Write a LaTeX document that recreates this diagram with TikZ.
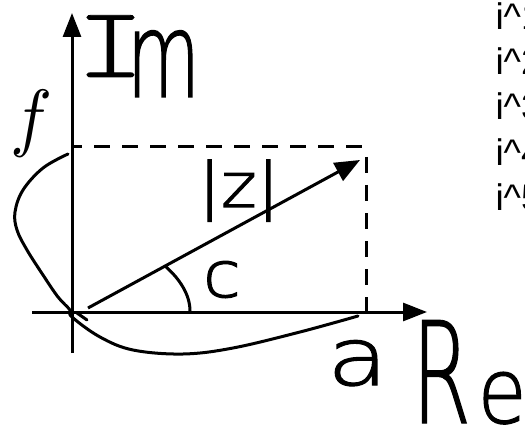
\documentclass[tikz,border=0pt]{standalone}
\usepackage{fontspec}
\usepackage{graphicx}
\setmainfont{Liberation Sans}
\newcommand\hw[4]{{\fontspec{DejaVuSans-ExtraLight.ttf}[FakeStretch=#1,FakeBold=#3]\fontsize{#2pt}{#2pt}\selectfont #4}}
\newcommand\hwmono[4]{{\fontspec{lmmonolt10-regular.otf}[FakeStretch=#1,FakeBold=#3]\fontsize{#2pt}{#2pt}\selectfont #4}}
\usetikzlibrary{arrows.meta}
\begin{document}
\begin{tikzpicture}[x=1pt,y=-1pt,
  stroke/.style={line width=3pt,line cap=round},
  axis/.style={line width=3pt,-{Triangle[length=24pt,width=18pt]}},
  dashline/.style={line width=3pt,dash pattern=on 16pt off 12pt},
  lbl/.style={inner sep=0pt,outer sep=0pt,anchor=base west},
  powtxt/.style={inner sep=0pt,outer sep=0pt,anchor=base west,font=\fontsize{37}{44}\selectfont}]
\clip (0,0) rectangle (525,425);
\fill[white] (0,0) rectangle (525,425);
% axes
\coordinate (ybot) at (72,353);
\coordinate (ytop) at (72,13);
\coordinate (xleft) at (32,312);
\coordinate (xright) at (427,312);
\draw[axis] (ybot) -- (ytop);
\draw[axis] (xleft) -- (xright);
% dashed rectangle
\coordinate (dA) at (72,147);
\coordinate (dB) at (366,147);
\coordinate (dC) at (366,312);
\draw[dashline,dash phase=6pt] (dA) -- (dB);
\draw[dashline,dash phase=18pt] (dB) -- (dC);
% vector
\coordinate (vs) at (88,308);
\coordinate (ve) at (360,160);
\draw[line width=3pt,-{Triangle[length=25pt,width=20pt]}] (vs) -- (ve);
% angle arc
\coordinate (a1) at (165,266);
\coordinate (a2) at (190,311);
\draw[stroke] (a1) .. controls (180,279) and (190,295) .. (a2);
% f curve
\draw[stroke] plot[smooth,tension=0.6] coordinates {(68,154) (43,168) (23,190) (15,212) (17,230) (27,250) (43,275) (58,297) (70,310) (72,317) (100,337) (133,350) (183,354) (233,348) (300,332) (358,316)};
\coordinate (k1) at (77,313);
\coordinate (k2) at (87,320);
\draw[stroke] (k1) -- (k2);
% labels
\node[lbl] (lIm) at (76,97) {\raisebox{20pt}{\hwmono{1.3}{101}{0.8}{I}}\kern-18pt\hw{0.63}{119}{1.0}{m}};
\node[lbl,anchor=north west] (lf) at (10,90) {\resizebox*{42pt}{67pt}{$f$}};
\node[lbl] (lz) at (198,207) {\hw{1.1}{62}{1.9}{|z|}};
\node[lbl] (lc) at (203,297) {\hw{1.07}{64}{1.9}{c}};
\node[lbl] (la) at (327,385) {\hw{1.25}{80}{1.4}{a}};
\node[lbl] (lR) at (412,423) {\hw{0.6}{141}{0.85}{R}\kern7pt\hw{0.87}{91}{1.3}{e}};
% powers of i
\node[powtxt] (t1) at (495.5,30) {i\textasciicircum 1 = i};
\node[powtxt] (t2) at (495.5,75) {i\textasciicircum 2 = -1};
\node[powtxt] (t3) at (495.5,120) {i\textasciicircum 3 = -i};
\node[powtxt] (t4) at (495.5,165) {i\textasciicircum 4 = 1};
\node[powtxt] (t5) at (495.5,210) {i\textasciicircum 5 = i};
\end{tikzpicture}
\end{document}
